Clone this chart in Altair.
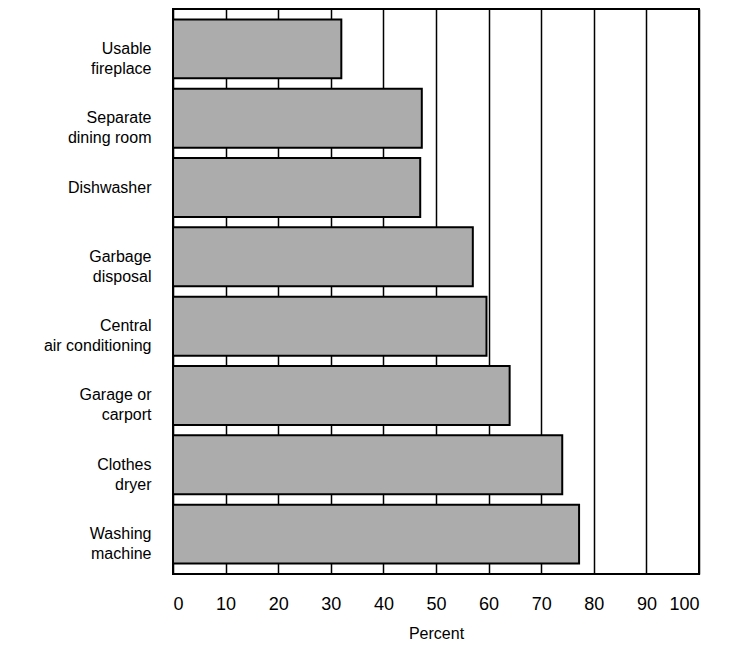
import altair as alt
import pandas as pd

categories = [
    "Usable|fireplace",
    "Separate|dining room",
    "Dishwasher",
    "Garbage|disposal",
    "Central|air conditioning",
    "Garage or|carport",
    "Clothes|dryer",
    "Washing|machine",
]
percents = [32.0, 47.3, 47.0, 57.0, 59.6, 64.0, 74.0, 77.2]
x_ticks = [0, 10, 20, 30, 40, 50, 60, 70, 80, 90, 100]

df = pd.DataFrame({"feature": categories, "percent": percents})

FONT = "Liberation Sans"

chart = (
    alt.Chart(df)
    .mark_bar(fill="#acacac", stroke="black", strokeWidth=2)
    .encode(
        x=alt.X(
            "percent:Q",
            scale=alt.Scale(domain=[0, 100], nice=False),
            axis=alt.Axis(
                values=x_ticks,
                title="Percent",
                grid=True,
                gridColor="black",
                gridWidth=1.5,
                gridOpacity=1,
                domain=False,
                ticks=False,
                labelPadding=21,
                labelFontSize=18,
                labelFont=FONT,
                labelColor="black",
                titleFont=FONT,
                titleFontSize=16,
                titleFontWeight="normal",
                titleColor="black",
                titlePadding=12,
            ),
        ),
        y=alt.Y(
            "feature:N",
            sort=categories,
            scale=alt.Scale(paddingInner=0.15, paddingOuter=0.15),
            axis=alt.Axis(
                title=None,
                domain=False,
                ticks=False,
                grid=False,
                labelExpr="split(datum.label, '|')",
                labelFont=FONT,
                labelFontSize=16,
                labelLineHeight=20,
                labelPadding=22,
                labelColor="black",
                labelLimit=0,
            ),
        ),
    )
    .properties(
        width=526,
        height=565,
        autosize="none",
        padding={"left": 165, "top": 1, "right": 20, "bottom": 70},
    )
    .configure_view(stroke="black", strokeWidth=2)
)

chart.save("out.html", embed_options={"renderer": "svg", "actions": False})
